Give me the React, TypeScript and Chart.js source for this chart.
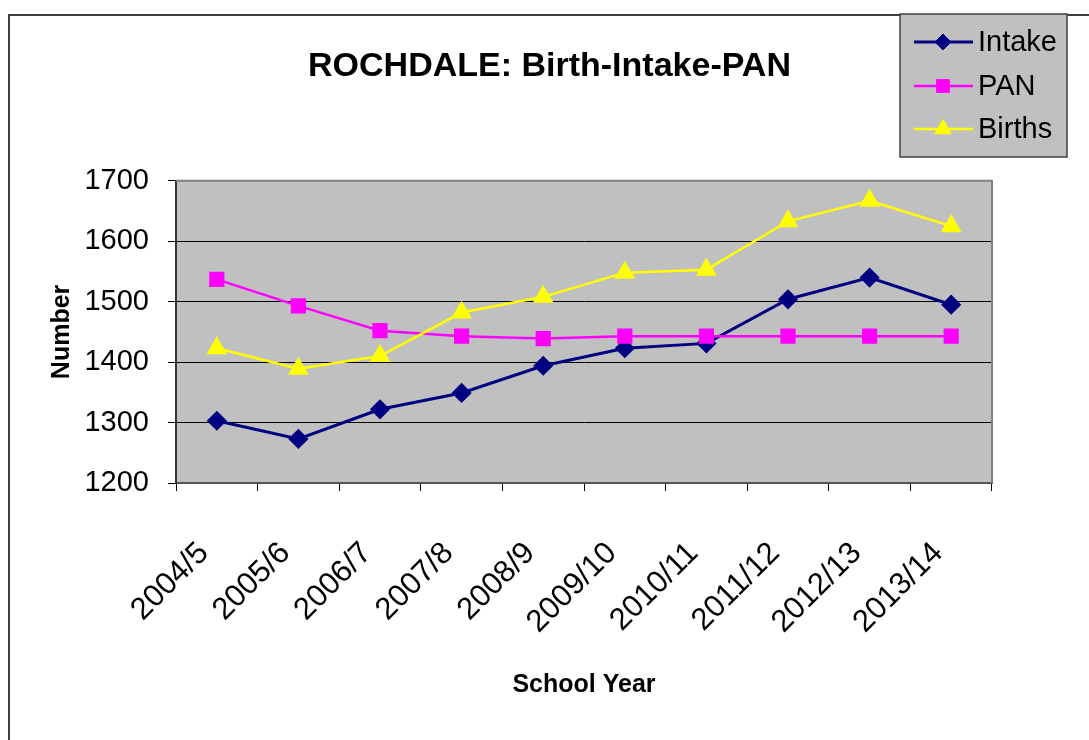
import React, { useEffect, useRef } from 'react';
import { Chart, registerables } from 'chart.js';
import { drawPoint } from 'chart.js/helpers';

Chart.register(...registerables);

const TITLE = 'ROCHDALE: Birth-Intake-PAN';
const X_TITLE = 'School Year';
const Y_TITLE = 'Number';

const categories = ['2004/5', '2005/6', '2006/7', '2007/8', '2008/9', '2009/10', '2010/11', '2011/12', '2012/13', '2013/14'];
const intake = [1303, 1273, 1322, 1349, 1394, 1423, 1431, 1504, 1540, 1495];
const pan = [1537, 1493, 1452, 1443, 1439, 1443, 1443, 1443, 1443, 1443];
const births = [1423, 1389, 1410, 1482, 1508, 1548, 1553, 1633, 1667, 1625];

const yMin = 1200;
const yMax = 1700;
const yStep = 100;

const FONT = "'Liberation Sans', Arial, Helvetica, sans-serif";
const PLOT_BG = '#c0c0c0';

const decorPlugin = {
  id: 'decor',
  beforeDraw(chart: any) {
    const { ctx, chartArea: a } = chart;
    ctx.save();
    ctx.fillStyle = PLOT_BG;
    ctx.fillRect(a.left, a.top, a.right - a.left, a.bottom - a.top);
    ctx.restore();
  },
  beforeDatasetsDraw(chart: any) {
    const { ctx, chartArea: a } = chart;
    ctx.save();
    ctx.strokeStyle = '#808080';
    ctx.lineWidth = 2;
    ctx.beginPath();
    ctx.moveTo(a.left, a.top);
    ctx.lineTo(a.right, a.top);
    ctx.lineTo(a.right, a.bottom);
    ctx.stroke();
    ctx.restore();
  },
  afterDraw(chart: any) {
    const { ctx } = chart;
    const bx = 900, by = 14, bw = 167, bh = 143;
    ctx.save();
    ctx.fillStyle = PLOT_BG;
    ctx.fillRect(bx, by, bw, bh);
    ctx.strokeStyle = '#404040';
    ctx.lineWidth = 1.5;
    ctx.strokeRect(bx, by, bw, bh);
    const rows = [42, 86, 129];
    chart.data.datasets.forEach((ds: any, i: number) => {
      const y = rows[i];
      ctx.strokeStyle = ds.borderColor;
      ctx.lineWidth = ds.borderWidth;
      ctx.beginPath();
      ctx.moveTo(914, y);
      ctx.lineTo(973, y);
      ctx.stroke();
      ctx.fillStyle = ds.pointBackgroundColor;
      ctx.strokeStyle = ds.pointBorderColor;
      ctx.lineWidth = 1;
      drawPoint(ctx, { pointStyle: ds.pointStyle, radius: ds.pointRadius, rotation: 0, borderWidth: 1 }, 943, y);
      ctx.fillStyle = '#000';
      ctx.font = `29px ${FONT}`;
      ctx.textBaseline = 'middle';
      ctx.textAlign = 'left';
      ctx.fillText(ds.label, 978, y + 1);
    });
    ctx.restore();
  },
};

export default function App() {
  const ref = useRef<HTMLCanvasElement | null>(null);

  useEffect(() => {
    if (!ref.current) return;
    const chart = new Chart(ref.current, {
      type: 'line',
      data: {
        labels: categories,
        datasets: [
          {
            label: 'Intake',
            data: intake,
            borderColor: '#000080',
            backgroundColor: '#000080',
            pointBackgroundColor: '#000080',
            pointBorderColor: '#000080',
            borderWidth: 3,
            pointStyle: 'rectRot',
            pointRadius: 8,
            order: 2,
          },
          {
            label: 'PAN',
            data: pan,
            borderColor: '#ff00ff',
            backgroundColor: '#ff00ff',
            pointBackgroundColor: '#ff00ff',
            pointBorderColor: '#ff00ff',
            borderWidth: 2.5,
            pointStyle: 'rect',
            pointRadius: 9,
            order: 1,
          },
          {
            label: 'Births',
            data: births,
            borderColor: '#ffff00',
            backgroundColor: '#ffff00',
            pointBackgroundColor: '#ffff00',
            pointBorderColor: '#ffff00',
            borderWidth: 2.5,
            pointStyle: 'triangle',
            pointRadius: 9.5,
            order: 0,
          },
        ] as any,
      },
      options: {
        responsive: false,
        animation: false,
        devicePixelRatio: 1,
        layout: { padding: { left: 10, right: 0, top: 0, bottom: 0 } },
        plugins: {
          legend: { display: false },
          tooltip: { enabled: false },
          title: {
            display: true,
            text: TITLE,
            color: '#000',
            font: { family: FONT, size: 34, weight: 'bold' },
            padding: { top: 46, bottom: 94 },
          },
        },
        scales: {
          x: {
            type: 'category',
            offset: true,
            grid: { offset: true, drawOnChartArea: false, drawTicks: true, tickLength: 8, color: '#000', lineWidth: 1 },
            border: { display: true, color: '#555', width: 2 },
            ticks: {
              autoSkip: false,
              maxRotation: 45,
              minRotation: 45,
              padding: 44,
              labelOffset: -13,
              color: '#000',
              font: { family: FONT, size: 31 },
            },
            title: {
              display: true,
              text: X_TITLE,
              color: '#000',
              font: { family: FONT, size: 25, weight: 'bold' },
              padding: { top: 0, bottom: 40 },
            },
            afterFit: (s: any) => { s.height = 257; },
          },
          y: {
            type: 'linear',
            position: 'left',
            min: yMin,
            max: yMax,
            ticks: {
              stepSize: yStep,
              padding: 19,
              color: '#000',
              font: { family: FONT, size: 29 },
              callback: (v: any) => String(v),
            },
            grid: { color: '#000', lineWidth: 1, tickLength: 8, drawTicks: true },
            border: { display: true, color: '#333', width: 2 },
            title: {
              display: true,
              text: Y_TITLE,
              color: '#000',
              font: { family: FONT, size: 25, weight: 'bold' },
              padding: { top: 37, bottom: 0 },
            },
            afterFit: (s: any) => { s.width = 166; },
          },
          yRight: {
            type: 'linear',
            position: 'right',
            display: true,
            grid: { display: false, drawTicks: false },
            border: { display: false },
            ticks: { display: false },
            afterFit: (s: any) => { s.width = 97; },
          },
        },
      } as any,
      plugins: [decorPlugin],
    });
    return () => chart.destroy();
  }, []);

  return (
    <div style={{ position: 'fixed', left: 0, top: 0, width: 1089, height: 740, overflow: 'hidden', background: '#fff' }}>
      <div
        style={{
          position: 'absolute',
          left: 8,
          top: 14,
          width: 1200,
          height: 900,
          borderLeft: '2px solid #404040',
          borderTop: '2px solid #404040',
        }}
      />
      <canvas ref={ref} width={1089} height={740} style={{ position: 'absolute', left: 0, top: 0, width: 1089, height: 740 }} />
    </div>
  );
}
